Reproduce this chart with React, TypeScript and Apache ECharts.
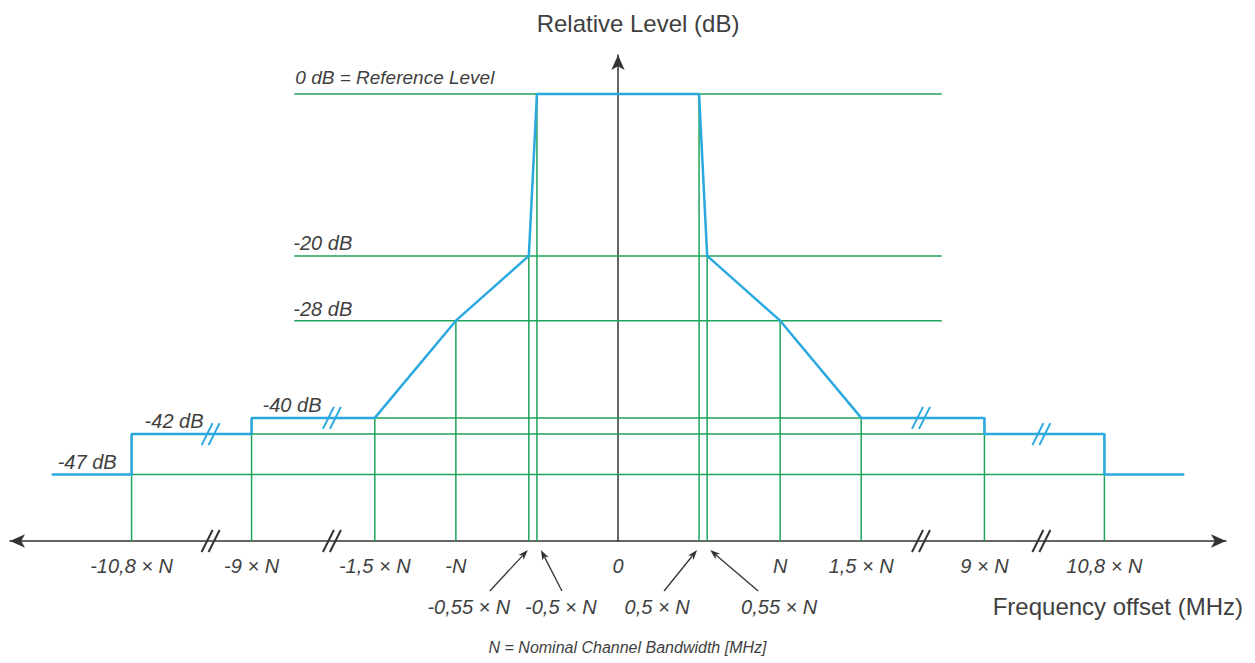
import React, { useEffect, useRef } from "react";
import * as echarts from "echarts";

// ---- Data (frequency offset in units of N, level in dB) ----
const maskFreq = [-12, -10.8, -10.8, -9, -9, -1.5, -1, -0.55, -0.5, 0.5, 0.55, 1, 1.5, 9, 9, 10.8, 10.8, 12];
const maskLevel = [-47, -47, -42, -42, -40, -40, -28, -20, 0, 0, -20, -28, -40, -40, -42, -42, -47, -47];

const tickFreq = [-10.8, -9, -1.5, -1, 0, 1, 1.5, 9, 10.8];
const tickLabels = ["-10,8 × N", "-9 × N", "-1,5 × N", "-N", "0", "N", "1,5 × N", "9 × N", "10,8 × N"];

const calloutFreq = [-0.55, -0.5, 0.5, 0.55];
const calloutLabels = ["-0,55 × N", "-0,5 × N", "0,5 × N", "0,55 × N"];

const guideLevels = [0, -20, -28, -40, -42, -47];
const guideExtent = [6.4, 6.4, 6.4, 1.5, 9, 10.8];

const dropFreq = [-10.8, -9, -1.5, -1, -0.55, -0.5, 0.5, 0.55, 1, 1.5, 9, 10.8];
const dropLevel = [-42, -40, -40, -28, -20, 0, 0, -20, -28, -40, -40, -42];

const levelLabels = ["-47 dB", "-42 dB", "-40 dB", "-28 dB", "-20 dB", "0 dB = Reference Level"];
const levelLabelValue = [-47, -42, -40, -28, -20, 0];
const levelLabelAnchor = [-12, -10.8, -9, -6.4, -6.4, -6.4];

const breakFreq = [-9.6, -4.05, 5.2, 9.87];
const breakLevel = [-42, -40, -40, -42];

// ---- Broken-axis scale (real |f| -> display units) ----
const SCALE_REAL = [0, 1.5, 9, 10.8, 12];
const SCALE_DISP = [0, 1.5, 2.26, 3.0, 3.493];
function toDisplay(f: number): number {
  const s = f < 0 ? -1 : 1;
  const a = Math.abs(f);
  for (let i = 1; i < SCALE_REAL.length; i++) {
    if (a <= SCALE_REAL[i] || i === SCALE_REAL.length - 1) {
      const t = (a - SCALE_REAL[i - 1]) / (SCALE_REAL[i] - SCALE_REAL[i - 1]);
      return s * (SCALE_DISP[i - 1] + t * (SCALE_DISP[i] - SCALE_DISP[i - 1]));
    }
  }
  return f;
}

// ---- Style ----
const X_MIN = -3.75, X_MAX = 3.75;
const Y_MIN = -55.2, Y_MAX = 4.8;
const BLUE = "#2aa9e0";
const GREEN = "#1fa35a";
const AXIS = "#333333";
const TEXT = "#3f3f3f";
const FONT = "'Liberation Sans Narrow', 'Arial Narrow', 'Liberation Sans', Arial, sans-serif";
const LEVEL_DX = [6, 13, 11, -1, -1, 1];
const LEVEL_DY = [-13, -13, -13, -12, -13, -16];
const LEVEL_SIZE = [20, 20, 20, 20, 20, 19];
const CALLOUT_TIP_DX = [-1, 4, -2, 3];
const CALLOUT_TAIL_DX = [-39, 25, -35, 51];
const CALLOUT_LABEL_DX = [-60, 24, -42, 72];

export default function App() {
  const ref = useRef<HTMLDivElement>(null);
  useEffect(() => {
    if (!ref.current) return;
    const chart = echarts.init(ref.current, undefined, { renderer: "svg" });
    const tickDisp = tickFreq.map(toDisplay);

    const guideData: number[][] = [];
    guideLevels.forEach((lv, i) => {
      guideData.push([toDisplay(-guideExtent[i]), lv, toDisplay(guideExtent[i]), lv]);
    });
    dropFreq.forEach((f, i) => {
      guideData.push([toDisplay(f), dropLevel[i], toDisplay(f), Y_MIN]);
    });

    const breakData: any[] = [];
    breakFreq.forEach((f, i) => {
      breakData.push([toDisplay(f), breakLevel[i], 0]);
      breakData.push([toDisplay(f), Y_MIN, 1]);
    });

    chart.setOption({
      animation: false,
      backgroundColor: "#ffffff",
      grid: { left: 10, right: 29, top: 55, bottom: 122, containLabel: false },
      xAxis: {
        type: "value",
        min: X_MIN,
        max: X_MAX,
        name: "Frequency offset (MHz)",
        nameLocation: "end",
        nameGap: 17,
        nameTextStyle: {
          fontFamily: FONT, fontSize: 24, color: TEXT, align: "right", verticalAlign: "top",
          padding: [53, 0, 0, 0],
        },
        axisLine: {
          show: true, onZero: false, symbol: ["arrow", "arrow"], symbolSize: [10, 15],
          lineStyle: { color: AXIS, width: 1.5 },
        },
        axisTick: { show: false },
        splitLine: { show: false },
        axisLabel: {
          customValues: tickDisp,
          formatter: (v: number) => {
            let best = 0;
            tickDisp.forEach((d, i) => { if (Math.abs(d - v) < Math.abs(tickDisp[best] - v)) best = i; });
            return tickLabels[best];
          },
          margin: 15,
          fontFamily: FONT, fontStyle: "italic", fontSize: 20, color: TEXT,
        },
      },
      yAxis: {
        type: "value",
        min: Y_MIN,
        max: Y_MAX,
        name: "Relative Level (dB)",
        nameLocation: "end",
        nameGap: 20,
        nameTextStyle: { fontFamily: FONT, fontSize: 24, color: TEXT, padding: [0, 0, 0, 40] },
        axisLine: {
          show: true, onZero: true, symbol: ["none", "arrow"], symbolSize: [10, 15],
          lineStyle: { color: AXIS, width: 1.5 },
        },
        axisTick: { show: false },
        axisLabel: { show: false },
        splitLine: { show: false },
      },
      graphic: [
        {
          type: "text", left: "center", top: 639,
          style: { text: "N = Nominal Channel Bandwidth [MHz]", fontFamily: FONT, fontStyle: "italic", fontSize: 16, fill: TEXT },
        },
      ],
      series: [
        {
          name: "guides",
          type: "custom",
          z: 1,
          silent: true,
          data: guideData,
          renderItem: (params: any, api: any) => {
            const p1 = api.coord([api.value(0), api.value(1)]);
            const p2 = api.coord([api.value(2), api.value(3)]);
            return {
              type: "line",
              shape: { x1: p1[0], y1: p1[1], x2: p2[0], y2: p2[1] },
              style: { stroke: GREEN, lineWidth: 1.5 },
            };
          },
        },
        {
          name: "mask",
          type: "line",
          z: 3,
          symbol: "none",
          silent: true,
          data: maskFreq.map((f, i) => [toDisplay(f), maskLevel[i]]),
          lineStyle: { color: BLUE, width: 2.5 },
        },
        {
          name: "breaks",
          type: "custom",
          z: 4,
          silent: true,
          data: breakData,
          renderItem: (params: any, api: any) => {
            const p = api.coord([api.value(0), api.value(1)]);
            const c = api.value(2) === 0 ? BLUE : AXIS;
            const mk = (o: number) => ({
              type: "line",
              shape: { x1: p[0] - 7 + o, y1: p[1] + 11, x2: p[0] + 4 + o, y2: p[1] - 11 },
              style: { stroke: c, lineWidth: 2 },
            });
            return { type: "group", children: [mk(-3), mk(4)] };
          },
        },
        {
          name: "levelLabels",
          type: "custom",
          z: 5,
          silent: true,
          data: levelLabelAnchor.map((f, i) => [toDisplay(f), levelLabelValue[i], i]),
          renderItem: (params: any, api: any) => {
            const i = api.value(2);
            const p = api.coord([api.value(0), api.value(1)]);
            return {
              type: "text",
              x: p[0] + LEVEL_DX[i],
              y: p[1] + LEVEL_DY[i],
              style: {
                text: levelLabels[i], fill: TEXT, fontFamily: FONT, fontStyle: "italic", fontSize: LEVEL_SIZE[i],
                align: "left", verticalAlign: "middle",
              },
            };
          },
        },
        {
          name: "callouts",
          type: "custom",
          z: 5,
          silent: true,
          data: calloutFreq.map((f, i) => [toDisplay(f), Y_MIN, i]),
          renderItem: (params: any, api: any) => {
            const i = api.value(2);
            const p = api.coord([api.value(0), api.value(1)]);
            const tip = [p[0] + CALLOUT_TIP_DX[i], p[1] + 9];
            const tail = [p[0] + CALLOUT_TAIL_DX[i], p[1] + 50];
            const dx = tip[0] - tail[0], dy = tip[1] - tail[1];
            const len = Math.sqrt(dx * dx + dy * dy);
            const ux = dx / len, uy = dy / len;
            const hl = 10, hw = 3.5;
            const bx = tip[0] - ux * hl, by = tip[1] - uy * hl;
            return {
              type: "group",
              children: [
                {
                  type: "line",
                  shape: { x1: tail[0], y1: tail[1], x2: bx + ux * 2, y2: by + uy * 2 },
                  style: { stroke: AXIS, lineWidth: 1.3 },
                },
                {
                  type: "polygon",
                  shape: { points: [[tip[0], tip[1]], [bx - uy * hw, by + ux * hw], [bx + ux * 2.5, by + uy * 2.5], [bx + uy * hw, by - ux * hw]] },
                  style: { fill: AXIS },
                },
                {
                  type: "text",
                  x: p[0] + CALLOUT_LABEL_DX[i],
                  y: p[1] + 66,
                  style: {
                    text: calloutLabels[i], fill: TEXT, fontFamily: FONT, fontStyle: "italic", fontSize: 20,
                    align: "center", verticalAlign: "middle",
                  },
                },
              ],
            };
          },
        },
      ],
    });
    return () => chart.dispose();
  }, []);
  return (
    <div
      ref={ref}
      style={{ position: "fixed", left: 0, top: 0, width: 1255, height: 663, background: "#fff" }}
    />
  );
}
